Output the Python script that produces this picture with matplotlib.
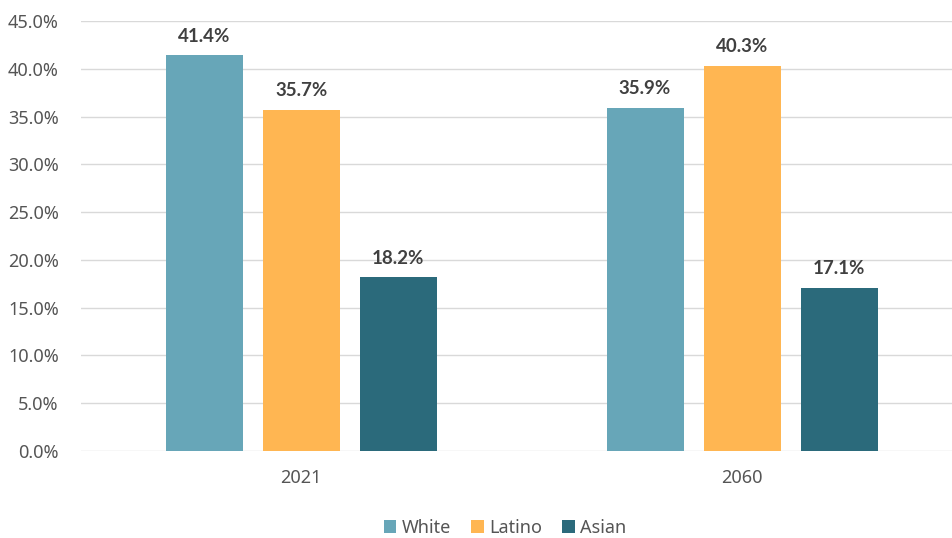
import numpy as np
import matplotlib.pyplot as plt
from matplotlib.ticker import MultipleLocator, FuncFormatter

plt.rcParams['font.family'] = ['Noto Sans', 'DejaVu Sans']

years = ['2021', '2060']
groups = ['White', 'Latino', 'Asian']
white = [41.4, 35.9]
latino = [35.7, 40.3]
asian = [18.2, 17.1]
colors = ['#67A6B8', '#FFB652', '#2B6A7B']

fig = plt.figure(figsize=(9.52, 5.38), dpi=100)
ax = fig.add_axes([81/952, 1-451/538, 1-81/952, 430/538])

x = np.arange(len(years))
w = 0.1746
step = 0.22
for i, (vals, name) in enumerate(zip([white, latino, asian], groups)):
	bars = ax.bar(x + (i-1)*step, vals, w, color=colors[i], label=name, zorder=3)
	for b, v in zip(bars, vals):
		ax.text(b.get_x()+b.get_width()/2, v+1.1, '%.1f%%' % v, ha='center', va='bottom',
				fontsize=13.5, fontweight='bold', color='#404040', family=['Lato', 'DejaVu Sans'])

ax.set_xlim(-0.499, 1.476)
ax.set_ylim(0, 45)
ax.yaxis.set_major_locator(MultipleLocator(5))
ax.yaxis.set_major_formatter(FuncFormatter(lambda v, p: '%.1f%%' % v))
ax.grid(axis='y', color='#D9D9D9', lw=1, zorder=0)
for s in ax.spines.values():
	s.set_visible(False)
ax.tick_params(length=0, labelsize=13, colors='#555555')
ax.tick_params(axis='y', pad=16)
ax.tick_params(axis='x', pad=13)
ax.set_xticks(x)
ax.set_xticklabels(years)

fig.legend(loc='center', bbox_to_anchor=(505/952, 1-528/538), ncol=3, frameon=False,
		   fontsize=13, handlelength=0.7, handleheight=0.7, handletextpad=0.3,
		   columnspacing=1.1, labelcolor='#555555')

plt.savefig('out.png', dpi=100)
